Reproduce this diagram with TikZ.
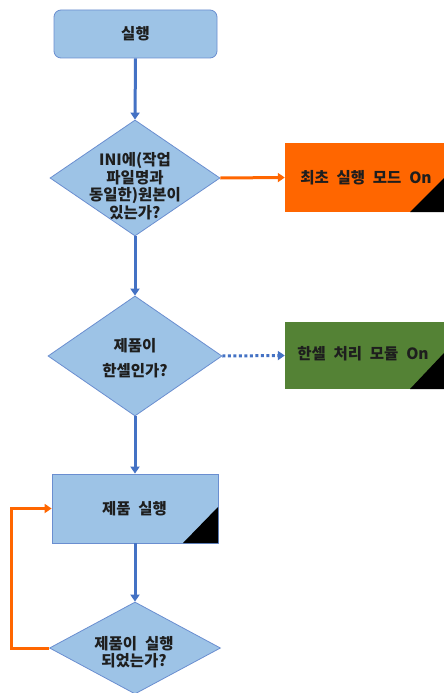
\documentclass[tikz,border=0pt]{standalone}
\usepackage{fontspec}
\newfontfamily\kr{Noto Sans CJK KR}[WordSpace=2.2]
\usetikzlibrary{shapes.geometric,arrows.meta}
\definecolor{bfill}{HTML}{9DC3E6}
\definecolor{bline}{HTML}{6A8ED0}
\definecolor{barrow}{HTML}{4472C4}
\definecolor{oran}{HTML}{FF6600}
\definecolor{gren}{HTML}{548235}
\definecolor{txtc}{HTML}{1E1E1E}
\tikzset{
  every node/.style={font=\kr\bfseries\fontsize{15.5}{18}\selectfont, text=txtc},
  dia/.style={shape=diamond, draw=bline, fill=bfill, line width=0.8pt, inner sep=0pt},
  startbox/.style={rectangle, rounded corners=7pt, draw=bline, fill=bfill, line width=0.8pt, inner sep=0pt},
  procbox/.style={rectangle, draw=bline, fill=bfill, line width=0.8pt, inner sep=0pt},
  colbox/.style={rectangle, draw=none, inner sep=0pt},
  flow/.style={draw=barrow, line width=3pt, -{Triangle[length=7pt,width=9pt]}},
  oflow/.style={draw=oran, line width=3pt, -{Triangle[length=7pt,width=9pt]}},
  dflow/.style={draw=barrow, line width=3pt, dash pattern=on 3pt off 2.5pt, -{Triangle[length=7pt,width=9pt]}},
  lbl/.style={align=center, inner sep=0pt},
}
\begin{document}
\begin{tikzpicture}[x=1pt,y=-1pt]
\useasboundingbox (0,0) rectangle (444,693);
\fill[white] (0,0) rectangle (444,693);

% start
\node[startbox, minimum width=163pt, minimum height=48pt] (start) at (135.5,34) {};
\node[lbl] (startt) at (start) {실행};

% diamond 1
\node[dia, minimum width=170pt, minimum height=116pt] (d1) at (135,178) {};
\node[lbl, font=\kr\bfseries\fontsize{15.5}{17.5}\selectfont] (d1t) at (135,186) {INI에(작업\\파일명과\\동일한)원본이\\있는가?};

% orange box
\node[colbox, fill=oran, minimum width=159pt, minimum height=69pt] (ob) at (364.5,177.5) {};
\fill[black] (410,212) -- (444,178) -- (444,212) -- cycle;
\node[lbl] (obt) at (366,178) {최초 실행 모드 On};

% diamond 2
\node[dia, minimum width=174pt, minimum height=120pt] (d2) at (135,356) {};
\node[lbl, font=\kr\bfseries\fontsize{15.5}{25}\selectfont] (d2t) at (135,358) {제품이\\한셀인가?};

% green box
\node[colbox, fill=gren, minimum width=159pt, minimum height=67pt] (gb) at (364.5,355.5) {};
\fill[black] (410,389) -- (444,353) -- (444,389) -- cycle;
\node[lbl] (gbt) at (363,354) {한셀 처리 모듈 On};

% process box
\node[procbox, minimum width=166pt, minimum height=69pt] (pb) at (135,508.5) {};
\fill[black] (183,543) -- (218,507) -- (218,543) -- cycle;
\node[lbl] (pbt) at (134.5,509) {제품 실행};

% diamond 3
\node[dia, minimum width=171pt, minimum height=92pt] (d3) at (135,648) {};
\node[lbl, font=\kr\bfseries\fontsize{15.5}{17.5}\selectfont] (d3t) at (134,652) {제품이 실행\\되었는가?};

\coordinate (lc1) at (11,648);
\coordinate (lc2) at (11,508.5);

% connectors
\draw[flow] (start.south) -- (d1.north);
\draw[oflow] (d1.east) -- (ob.west);
\draw[flow] (d1.south) -- (d2.north);
\draw[dflow] (d2.east) -- (gb.west);
\draw[flow] (d2.south) -- (pb.north);
\draw[flow] (pb.south) -- (d3.north);
\draw[oflow] (d3.west) -- (lc1) -- (lc2) -- (pb.west);
\end{tikzpicture}
\end{document}
